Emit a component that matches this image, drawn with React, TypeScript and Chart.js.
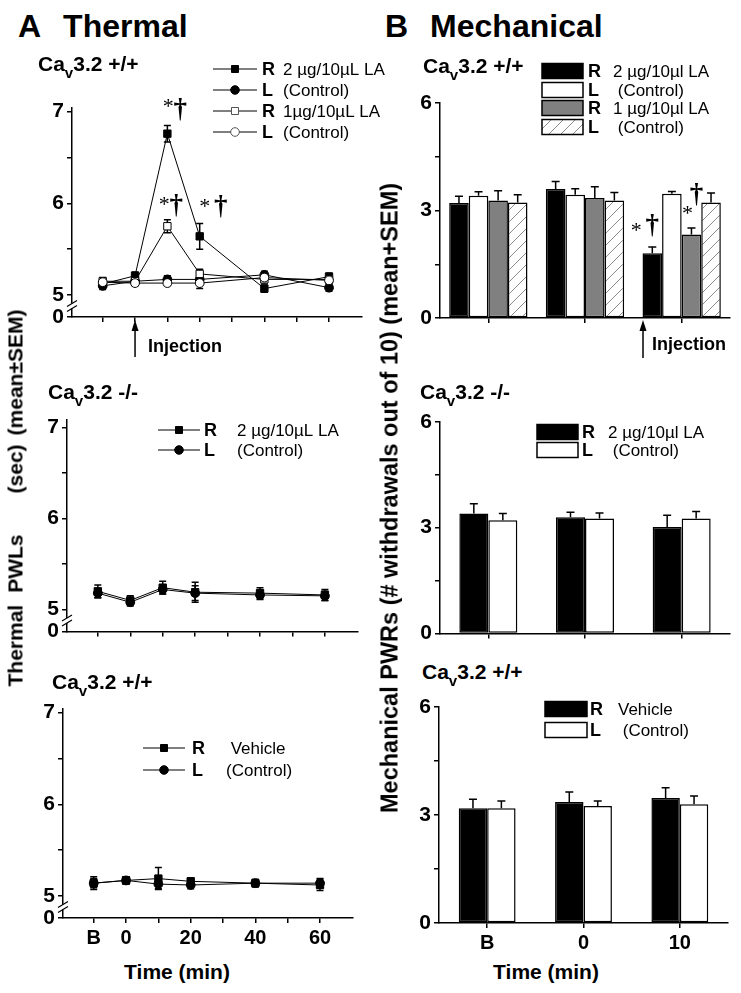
import React, { useEffect, useRef } from 'react';
import { Chart, registerables } from 'chart.js';

Chart.register(...registerables);

const SANS = '"Liberation Sans", Arial, Helvetica, sans-serif';
const SERIF = '"Liberation Serif", "Times New Roman", serif';

// ---------------- DATA ----------------
// Thermal: time points (min); -10 stands for the baseline "B"
const TIME_POINTS = [-10, 0, 10, 20, 40, 60];
const TIME_TICKS = [-10, 0, 10, 20, 30, 40, 50, 60];
const TIME_TICK_LABELS = ['B', '0', '', '20', '', '40', '', '60'];
// broken axis: the lowest tick stands for 0
const THERMAL_Y_TICKS = [4.76, 5, 5.5, 6, 6.5, 7];
const THERMAL_Y_LABELS = ['0', '5', '', '6', '', '7'];

// Mechanical
const BAR_CATEGORIES = ['B', '0', '10'];
const MECH_Y_TICKS = [0, 1.5, 3, 4.5, 6];
const MECH_Y_LABELS = ['0', '', '3', '', '6'];

// A top: CaV3.2 +/+, LA
const thWtR2 = [5.12, 5.21, 6.76, 5.64, 5.07, 5.2];
const thWtR2Err = [0.04, 0.04, 0.09, 0.14, 0.04, 0.04];
const thWtL2 = [5.1, 5.15, 5.17, 5.17, 5.22, 5.08];
const thWtL2Err = [0.04, 0.03, 0.04, 0.04, 0.04, 0.04];
const thWtR1 = [5.15, 5.15, 5.75, 5.23, 5.17, 5.17];
const thWtR1Err = [0.04, 0.04, 0.07, 0.05, 0.04, 0.04];
const thWtL1 = [5.14, 5.13, 5.13, 5.13, 5.19, 5.16];
const thWtL1Err = [0.04, 0.03, 0.03, 0.06, 0.03, 0.04];

// A middle: CaV3.2 -/-
const thKoR = [5.2, 5.1, 5.24, 5.19, 5.18, 5.16];
const thKoRErr = [0.07, 0.05, 0.07, 0.11, 0.06, 0.06];
const thKoL = [5.18, 5.08, 5.22, 5.18, 5.16, 5.15];
const thKoLErr = [0.05, 0.04, 0.05, 0.08, 0.05, 0.05];

// A bottom: CaV3.2 +/+, vehicle
const thVehR = [5.14, 5.17, 5.19, 5.16, 5.14, 5.12];
const thVehRErr = [0.07, 0.04, 0.12, 0.04, 0.04, 0.06];
const thVehL = [5.14, 5.17, 5.13, 5.12, 5.14, 5.14];
const thVehLErr = [0.05, 0.04, 0.05, 0.04, 0.04, 0.05];

// B top: CaV3.2 +/+, LA
const mechWtR2 = [3.21, 3.6, 1.81];
const mechWtR2Err = [0.19, 0.21, 0.17];
const mechWtL2 = [3.41, 3.44, 3.47];
const mechWtL2Err = [0.11, 0.17, 0.06];
const mechWtR1 = [3.28, 3.35, 2.33];
const mechWtR1Err = [0.27, 0.31, 0.18];
const mechWtL1 = [3.22, 3.28, 3.22];
const mechWtL1Err = [0.22, 0.22, 0.27];

// B middle: CaV3.2 -/-
const mechKoR = [3.4, 3.3, 3.02];
const mechKoRErr = [0.28, 0.14, 0.33];
const mechKoL = [3.21, 3.26, 3.26];
const mechKoLErr = [0.19, 0.16, 0.2];

// B bottom: vehicle
const mechVehR = [3.19, 3.36, 3.47];
const mechVehRErr = [0.25, 0.28, 0.29];
const mechVehL = [3.19, 3.25, 3.3];
const mechVehLErr = [0.2, 0.14, 0.23];

// ---------------- HELPERS ----------------
type Box = { l: number; t: number; r: number; b: number };

interface LegendItem {
  side: string;
  text: string;
  marker?: 'rect' | 'circle';
  filled?: boolean;
  fill?: string;
  hatch?: boolean;
}
interface LegendSpec {
  kind: 'line' | 'box';
  rows: number[];
  symX0: number;
  symX1: number;
  sideX: number;
  textX: number;
  items: LegendItem[];
}
interface Annotation {
  ds: number;
  idx: number;
  star: [number, number];
  dagger: [number, number];
}
interface Injection {
  at: (c: any) => number;
  tip: number;
  tail: number;
  textDx: number;
  textDy: number;
}
interface Extras {
  errBoth: boolean;
  axisBreak?: boolean;
  legend: LegendSpec;
  annotations?: Annotation[];
  injection?: Injection;
}

let hatchPat: CanvasPattern | null = null;
function getHatch(): CanvasPattern {
  if (hatchPat) return hatchPat;
  const c = document.createElement('canvas');
  c.width = 12;
  c.height = 12;
  const g = c.getContext('2d')!;
  g.fillStyle = '#fff';
  g.fillRect(0, 0, 12, 12);
  g.strokeStyle = '#8c8c8c';
  g.lineWidth = 1;
  g.beginPath();
  g.moveTo(0, 12);
  g.lineTo(12, 0);
  g.moveTo(-1, 1);
  g.lineTo(1, -1);
  g.moveTo(11, 13);
  g.lineTo(13, 11);
  g.stroke();
  hatchPat = g.createPattern(c, 'repeat')!;
  return hatchPat;
}

function drawErrors(chart: any, both: boolean) {
  const ctx = chart.ctx;
  const ys = chart.scales.y;
  ctx.save();
  ctx.strokeStyle = '#000';
  ctx.lineWidth = 1.5;
  chart.data.datasets.forEach((ds: any, i: number) => {
    const meta = chart.getDatasetMeta(i);
    meta.data.forEach((el: any, j: number) => {
      const raw = ds.data[j];
      const v = typeof raw === 'number' ? raw : raw.y;
      const e = ds.errs[j];
      const x = el.x;
      const yt = ys.getPixelForValue(v + e);
      const yb = both ? ys.getPixelForValue(v - e) : el.y;
      const cw = both ? 3.5 : 4;
      ctx.beginPath();
      ctx.moveTo(x, yb);
      ctx.lineTo(x, yt);
      ctx.moveTo(x - cw, yt);
      ctx.lineTo(x + cw, yt);
      if (both) {
        ctx.moveTo(x - cw, yb);
        ctx.lineTo(x + cw, yb);
      }
      ctx.stroke();
    });
  });
  ctx.restore();
}

function drawBreak(chart: any) {
  const ctx = chart.ctx;
  const ys = chart.scales.y;
  const x = chart.chartArea.left;
  const yc = (ys.getPixelForValue(ys.min) + ys.getPixelForValue(5)) / 2;
  ctx.save();
  ctx.fillStyle = '#fff';
  ctx.fillRect(x - 2, yc - 2.5, 4, 5);
  ctx.strokeStyle = '#000';
  ctx.lineWidth = 1.2;
  ctx.beginPath();
  for (const d of [-2.5, 2.5]) {
    ctx.moveTo(x - 5, yc + d + 3);
    ctx.lineTo(x + 5, yc + d - 3);
  }
  ctx.stroke();
  ctx.restore();
}

function drawAnnotations(chart: any, anns: Annotation[]) {
  const ctx = chart.ctx;
  const ys = chart.scales.y;
  ctx.save();
  ctx.fillStyle = '#000';
  ctx.textAlign = 'center';
  ctx.textBaseline = 'middle';
  anns.forEach((a) => {
    const ds = chart.data.datasets[a.ds];
    const el = chart.getDatasetMeta(a.ds).data[a.idx];
    const raw = ds.data[a.idx];
    const v = typeof raw === 'number' ? raw : raw.y;
    const ax = el.x;
    const ay = ys.getPixelForValue(v + ds.errs[a.idx]);
    ctx.font = `22px ${SERIF}`;
    ctx.fillText('*', ax + a.star[0], ay + a.star[1] + 3);
    ctx.font = `bold 27px ${SERIF}`;
    ctx.fillText('\u2020', ax + a.dagger[0], ay + a.dagger[1]);
  });
  ctx.restore();
}

function drawInjection(chart: any, inj: Injection) {
  const ctx = chart.ctx;
  const x = inj.at(chart);
  const b = chart.chartArea.bottom;
  ctx.save();
  ctx.strokeStyle = '#000';
  ctx.fillStyle = '#000';
  ctx.lineWidth = 1.5;
  ctx.beginPath();
  ctx.moveTo(x, b + inj.tail);
  ctx.lineTo(x, b + inj.tip + 8);
  ctx.stroke();
  ctx.beginPath();
  ctx.moveTo(x, b + inj.tip);
  ctx.lineTo(x - 3.5, b + inj.tip + 11);
  ctx.lineTo(x + 3.5, b + inj.tip + 11);
  ctx.closePath();
  ctx.fill();
  ctx.font = `bold 18px ${SANS}`;
  ctx.textAlign = 'left';
  ctx.textBaseline = 'middle';
  ctx.fillText('Injection', x + inj.textDx, b + inj.textDy);
  ctx.restore();
}

function drawLegend(chart: any, lg: LegendSpec, ox: number, oy: number) {
  const ctx = chart.ctx;
  ctx.save();
  lg.items.forEach((it, k) => {
    const y = lg.rows[k] - oy;
    const x0 = lg.symX0 - ox;
    const x1 = lg.symX1 - ox;
    if (lg.kind === 'line') {
      ctx.strokeStyle = '#000';
      ctx.lineWidth = 1;
      ctx.beginPath();
      ctx.moveTo(x0, y);
      ctx.lineTo(x1, y);
      ctx.stroke();
      const cx = (x0 + x1) / 2;
      ctx.fillStyle = it.filled ? '#000' : '#fff';
      ctx.beginPath();
      if (it.marker === 'rect') ctx.rect(cx - 3.5, y - 3.5, 7, 7);
      else ctx.arc(cx, y, 4.3, 0, Math.PI * 2);
      ctx.fill();
      ctx.strokeStyle = it.filled ? '#000' : '#555';
      ctx.stroke();
    } else {
      ctx.fillStyle = it.hatch ? getHatch() : it.fill || '#fff';
      ctx.fillRect(x0, y - 7.5, x1 - x0, 15);
      ctx.lineWidth = 1.5;
      ctx.strokeStyle = '#000';
      ctx.strokeRect(x0, y - 7.5, x1 - x0, 15);
    }
    ctx.fillStyle = '#000';
    ctx.textBaseline = 'middle';
    ctx.textAlign = 'left';
    ctx.font = `bold 18px ${SANS}`;
    ctx.fillText(it.side, lg.sideX - ox, y + 1);
    ctx.font = `17px ${SANS}`;
    ctx.fillText(it.text, lg.textX - ox, y + 1);
  });
  ctx.restore();
}

function makeExtras(ex: Extras, ox: number, oy: number) {
  return {
    id: 'extras',
    beforeDatasetsDraw(chart: any) {
      if (ex.errBoth) drawErrors(chart, true);
    },
    afterDatasetsDraw(chart: any) {
      if (!ex.errBoth) drawErrors(chart, false);
      if (ex.axisBreak) drawBreak(chart);
      if (ex.annotations) drawAnnotations(chart, ex.annotations);
      if (ex.injection) drawInjection(chart, ex.injection);
      drawLegend(chart, ex.legend, ox, oy);
    },
  };
}

const axisGrid = { drawOnChartArea: false, drawTicks: true, tickLength: 5, color: '#000', lineWidth: 1.5 };
const axisBorder = { display: true, color: '#000', width: 1.5 };

interface LineSeries {
  values: number[];
  errs: number[];
  marker: 'rect' | 'circle';
  filled: boolean;
}

function thermalConfig(series: LineSeries[], yMax: number, xLabels: boolean, ex: Extras, ox: number, oy: number) {
  return {
    type: 'line',
    data: {
      datasets: series.map((s) => ({
        data: TIME_POINTS.map((x, i) => ({ x, y: s.values[i] })),
        errs: s.errs,
        borderColor: '#000',
        borderWidth: 1,
        pointStyle: s.marker,
        pointRadius: s.marker === 'rect' ? 5.2 : 4.4,
        pointBackgroundColor: s.filled ? '#000' : '#fff',
        pointBorderColor: '#000',
        pointBorderWidth: 1,
        tension: 0,
        fill: false,
      })),
    },
    options: {
      responsive: false,
      maintainAspectRatio: false,
      animation: false,
      devicePixelRatio: 1,
      plugins: { legend: { display: false }, tooltip: { enabled: false } },
      scales: {
        x: {
          type: 'linear',
          min: -19.5,
          max: 70.2,
          afterBuildTicks: (s: any) => {
            s.ticks = TIME_TICKS.map((v) => ({ value: v }));
          },
          ticks: {
            display: xLabels,
            autoSkip: false,
            maxRotation: 0,
            padding: 3,
            color: '#000',
            font: { family: SANS, weight: 'bold', size: 20 },
            callback: (v: number) => TIME_TICK_LABELS[TIME_TICKS.indexOf(v)] ?? '',
          },
          grid: axisGrid,
          border: axisBorder,
        },
        y: {
          type: 'linear',
          min: THERMAL_Y_TICKS[0],
          max: yMax,
          afterBuildTicks: (s: any) => {
            s.ticks = THERMAL_Y_TICKS.map((v) => ({ value: v }));
          },
          ticks: {
            padding: 3,
            color: '#000',
            font: { family: SANS, weight: 'bold', size: 21 },
            callback: (v: number) => THERMAL_Y_LABELS[THERMAL_Y_TICKS.indexOf(v)] ?? '',
          },
          grid: axisGrid,
          border: axisBorder,
        },
      },
    } as any,
    plugins: [makeExtras(ex, ox, oy)],
  };
}

interface BarSeries {
  values: number[];
  errs: number[];
  fill?: string;
  hatch?: boolean;
}

function mechConfig(series: BarSeries[], catPct: number, xLabels: boolean, ex: Extras, ox: number, oy: number) {
  return {
    type: 'bar',
    data: {
      labels: BAR_CATEGORIES,
      datasets: series.map((s) => ({
        data: s.values,
        errs: s.errs,
        backgroundColor: s.hatch ? getHatch() : s.fill,
        borderColor: '#000',
        borderWidth: 1.5,
        borderSkipped: false,
        categoryPercentage: catPct,
        barPercentage: 1,
      })),
    },
    options: {
      responsive: false,
      maintainAspectRatio: false,
      animation: false,
      devicePixelRatio: 1,
      plugins: { legend: { display: false }, tooltip: { enabled: false } },
      scales: {
        x: {
          type: 'category',
          offset: true,
          ticks: {
            display: xLabels,
            autoSkip: false,
            maxRotation: 0,
            padding: 3,
            color: '#000',
            font: { family: SANS, weight: 'bold', size: 20 },
          },
          grid: { ...axisGrid, offset: false },
          border: axisBorder,
        },
        y: {
          type: 'linear',
          min: 0,
          max: 6,
          afterBuildTicks: (s: any) => {
            s.ticks = MECH_Y_TICKS.map((v) => ({ value: v }));
          },
          ticks: {
            padding: 3,
            color: '#000',
            font: { family: SANS, weight: 'bold', size: 21 },
            callback: (v: number) => MECH_Y_LABELS[MECH_Y_TICKS.indexOf(v)] ?? '',
          },
          grid: axisGrid,
          border: axisBorder,
        },
      },
    } as any,
    plugins: [makeExtras(ex, ox, oy)],
  };
}

function ChartPanel({ box, pad, make }: { box: Box; pad: Box; make: (ox: number, oy: number) => any }) {
  const ref = useRef<HTMLCanvasElement | null>(null);
  const left = box.l - pad.l;
  const top = box.t - pad.t;
  const w = box.r - box.l + pad.l + pad.r;
  const h = box.b - box.t + pad.t + pad.b;
  useEffect(() => {
    if (!ref.current) return;
    const cfg = make(left, top);
    cfg.options.layout = { padding: { left: 0, top: pad.t, right: pad.r, bottom: 0 }, autoPadding: false };
    cfg.options.scales.x.afterFit = (s: any) => {
      s.height = pad.b;
    };
    cfg.options.scales.y.afterFit = (s: any) => {
      s.width = pad.l;
    };
    const chart = new Chart(ref.current, cfg);
    return () => chart.destroy();
  }, []);
  return <canvas ref={ref} width={w} height={h} style={{ position: 'absolute', left, top, width: w, height: h }} />;
}

function CavLabel({ x, y, geno }: { x: number; y: number; geno: string }) {
  return (
    <div style={{ position: 'absolute', left: x, top: y, font: `bold 21px ${SANS}`, lineHeight: '21px', whiteSpace: 'pre' }}>
      Ca<span style={{ fontSize: 15, position: 'relative', top: 7 }}>v</span>3.2 {geno}
    </div>
  );
}

const UG_L = '2 \u00b5g/10\u00b5L LA';
const UG1_L = '1\u00b5g/10\u00b5L LA';
const UG_l = '2 \u00b5g/10\u00b5l LA';
const UG1_l = '1 \u00b5g/10\u00b5l LA';
const PM = '\u00b1';

export default function App() {
  const injTL: Injection = { at: (c) => c.scales.x.getPixelForValue(0), tip: 3, tail: 40, textDx: 13, textDy: 30 };
  const injTR: Injection = {
    at: (c) => {
      const xs = c.scales.x;
      const step = xs.getPixelForValue(1) - xs.getPixelForValue(0);
      return xs.getPixelForValue(2) - 0.4 * step;
    },
    tip: 2,
    tail: 40,
    textDx: 9,
    textDy: 27,
  };

  return (
    <div style={{ position: 'absolute', left: 0, top: 0, width: 741, height: 993, background: '#fff', overflow: 'hidden', fontFamily: SANS, color: '#000' }}>
      {/* ---- Thermal column ---- */}
      <ChartPanel
        box={{ l: 72, t: 108, r: 362, b: 317 }}
        pad={{ l: 52, t: 62, r: 30, b: 60 }}
        make={(ox, oy) =>
          thermalConfig(
            [
              { values: thWtL1, errs: thWtL1Err, marker: 'circle', filled: false },
              { values: thWtR1, errs: thWtR1Err, marker: 'rect', filled: false },
              { values: thWtL2, errs: thWtL2Err, marker: 'circle', filled: true },
              { values: thWtR2, errs: thWtR2Err, marker: 'rect', filled: true },
            ],
            7.04,
            false,
            {
              errBoth: true,
              axisBreak: true,
              annotations: [
                { ds: 3, idx: 2, star: [1, -21], dagger: [13, -15] },
                { ds: 1, idx: 2, star: [-3, -18], dagger: [9, -14] },
                { ds: 3, idx: 3, star: [5, -19], dagger: [21, -16] },
              ],
              injection: injTL,
              legend: {
                kind: 'line',
                rows: [69, 90, 111, 132],
                symX0: 213,
                symX1: 257,
                sideX: 262,
                textX: 283,
                items: [
                  { side: 'R', text: UG_L, marker: 'rect', filled: true },
                  { side: 'L', text: '(Control)', marker: 'circle', filled: true },
                  { side: 'R', text: UG1_L, marker: 'rect', filled: false },
                  { side: 'L', text: '(Control)', marker: 'circle', filled: false },
                ],
              },
            },
            ox,
            oy
          )
        }
      />
      <ChartPanel
        box={{ l: 67, t: 420, r: 358, b: 635 }}
        pad={{ l: 52, t: 22, r: 30, b: 12 }}
        make={(ox, oy) =>
          thermalConfig(
            [
              { values: thKoL, errs: thKoLErr, marker: 'circle', filled: true },
              { values: thKoR, errs: thKoRErr, marker: 'rect', filled: true },
            ],
            7.08,
            false,
            {
              errBoth: true,
              axisBreak: true,
              legend: {
                kind: 'line',
                rows: [430, 450],
                symX0: 158,
                symX1: 200,
                sideX: 204,
                textX: 237,
                items: [
                  { side: 'R', text: UG_L, marker: 'rect', filled: true },
                  { side: 'L', text: '(Control)', marker: 'circle', filled: true },
                ],
              },
            },
            ox,
            oy
          )
        }
      />
      <ChartPanel
        box={{ l: 63, t: 709, r: 353, b: 918 }}
        pad={{ l: 52, t: 22, r: 30, b: 32 }}
        make={(ox, oy) =>
          thermalConfig(
            [
              { values: thVehL, errs: thVehLErr, marker: 'circle', filled: true },
              { values: thVehR, errs: thVehRErr, marker: 'rect', filled: true },
            ],
            7.04,
            true,
            {
              errBoth: true,
              axisBreak: true,
              legend: {
                kind: 'line',
                rows: [748, 770],
                symX0: 143,
                symX1: 185,
                sideX: 192,
                textX: 226,
                items: [
                  { side: 'R', text: ' Vehicle', marker: 'rect', filled: true },
                  { side: 'L', text: '(Control)', marker: 'circle', filled: true },
                ],
              },
            },
            ox,
            oy
          )
        }
      />

      {/* ---- Mechanical column ---- */}
      <ChartPanel
        box={{ l: 440, t: 103, r: 730, b: 318 }}
        pad={{ l: 40, t: 48, r: 10, b: 60 }}
        make={(ox, oy) =>
          mechConfig(
            [
              { values: mechWtR2, errs: mechWtR2Err, fill: '#000' },
              { values: mechWtL2, errs: mechWtL2Err, fill: '#fff' },
              { values: mechWtR1, errs: mechWtR1Err, fill: '#808080' },
              { values: mechWtL1, errs: mechWtL1Err, hatch: true },
            ],
            0.81,
            false,
            {
              errBoth: false,
              annotations: [
                { ds: 0, idx: 2, star: [-16, -19], dagger: [0, -21] },
                { ds: 2, idx: 2, star: [-4, -17], dagger: [5, -33] },
              ],
              injection: injTR,
              legend: {
                kind: 'box',
                rows: [71, 90, 108, 127],
                symX0: 542,
                symX1: 583,
                sideX: 588,
                textX: 613,
                items: [
                  { side: 'R', text: UG_l, fill: '#000' },
                  { side: 'L', text: ' (Control)', fill: '#fff' },
                  { side: 'R', text: UG1_l, fill: '#808080' },
                  { side: 'L', text: ' (Control)', hatch: true },
                ],
              },
            },
            ox,
            oy
          )
        }
      />
      <ChartPanel
        box={{ l: 440, t: 422, r: 730, b: 637 }}
        pad={{ l: 40, t: 22, r: 10, b: 12 }}
        make={(ox, oy) =>
          mechConfig(
            [
              { values: mechKoR, errs: mechKoRErr, fill: '#000' },
              { values: mechKoL, errs: mechKoLErr, fill: '#fff' },
            ],
            0.6,
            false,
            {
              errBoth: false,
              legend: {
                kind: 'box',
                rows: [432, 450],
                symX0: 537,
                symX1: 578,
                sideX: 582,
                textX: 608,
                items: [
                  { side: 'R', text: UG_l, fill: '#000' },
                  { side: 'L', text: ' (Control)', fill: '#fff' },
                ],
              },
            },
            ox,
            oy
          )
        }
      />
      <ChartPanel
        box={{ l: 439, t: 707, r: 728, b: 923 }}
        pad={{ l: 40, t: 22, r: 10, b: 32 }}
        make={(ox, oy) =>
          mechConfig(
            [
              { values: mechVehR, errs: mechVehRErr, fill: '#000' },
              { values: mechVehL, errs: mechVehLErr, fill: '#fff' },
            ],
            0.59,
            true,
            {
              errBoth: false,
              legend: {
                kind: 'box',
                rows: [709, 730],
                symX0: 545,
                symX1: 587,
                sideX: 590,
                textX: 618,
                items: [
                  { side: 'R', text: 'Vehicle', fill: '#000' },
                  { side: 'L', text: ' (Control)', fill: '#fff' },
                ],
              },
            },
            ox,
            oy
          )
        }
      />

      {/* ---- Headings ---- */}
      <div style={{ position: 'absolute', left: 18, top: 10, font: `bold 32px ${SANS}`, lineHeight: '32px', whiteSpace: 'nowrap' }}>
        A<span style={{ marginLeft: 22 }}>Thermal</span>
      </div>
      <div style={{ position: 'absolute', left: 385, top: 10, font: `bold 32px ${SANS}`, lineHeight: '32px', whiteSpace: 'nowrap' }}>
        B<span style={{ marginLeft: 22 }}>Mechanical</span>
      </div>

      <CavLabel x={38} y={53} geno="+/+" />
      <CavLabel x={423} y={55} geno="+/+" />
      <CavLabel x={48} y={381} geno="-/-" />
      <CavLabel x={420} y={381} geno="-/-" />
      <CavLabel x={52} y={671} geno="+/+" />
      <CavLabel x={422} y={661} geno="+/+" />

      {/* ---- Y titles ---- */}
      <div
        style={{
          position: 'absolute',
          left: 15,
          top: 498,
          transform: 'translate(-50%, -50%) rotate(-90deg)',
          font: `bold 21px ${SANS}`,
          lineHeight: '21px',
          whiteSpace: 'nowrap',
        }}
      >
        Thermal<span style={{ marginLeft: 12 }}>PWLs</span>
        <span style={{ marginLeft: 41 }}>(sec)</span>
        <span style={{ marginLeft: 9 }}>{`(mean${PM}SEM)`}</span>
      </div>
      <div
        style={{
          position: 'absolute',
          left: 390,
          top: 498,
          transform: 'translate(-50%, -50%) rotate(-90deg)',
          font: `bold 23.5px ${SANS}`,
          lineHeight: '23px',
          whiteSpace: 'nowrap',
        }}
      >
        Mechanical PWRs (# withdrawals out of 10) (mean+SEM)
      </div>

      {/* ---- X titles ---- */}
      <div style={{ position: 'absolute', left: 177, top: 971, transform: 'translate(-50%, -50%)', font: `bold 21px ${SANS}`, lineHeight: '21px', whiteSpace: 'nowrap' }}>
        Time (min)
      </div>
      <div style={{ position: 'absolute', left: 546, top: 971, transform: 'translate(-50%, -50%)', font: `bold 21px ${SANS}`, lineHeight: '21px', whiteSpace: 'nowrap' }}>
        Time (min)
      </div>
    </div>
  );
}
